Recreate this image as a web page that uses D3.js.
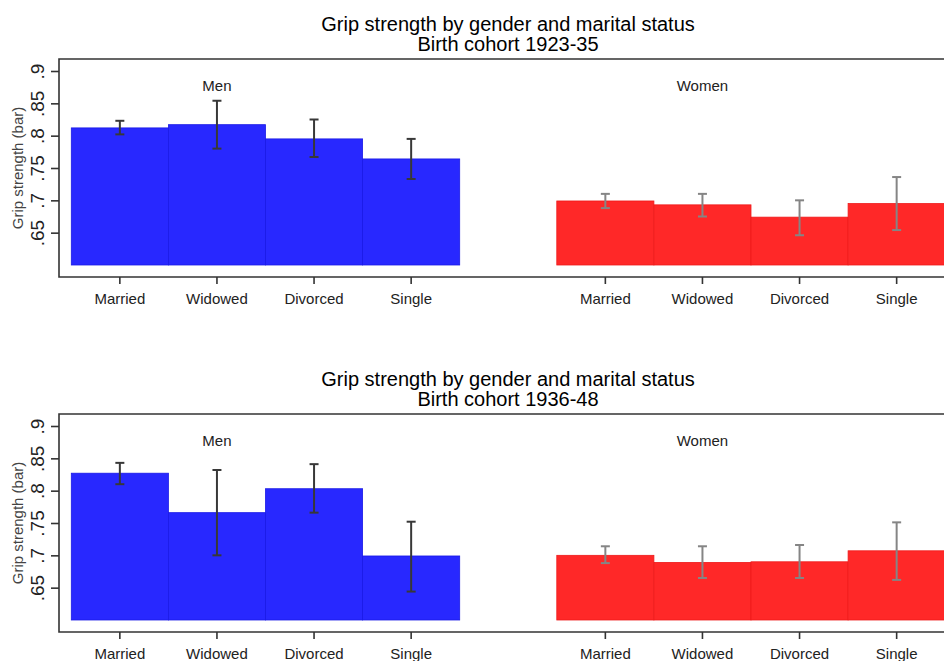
<!DOCTYPE html>
<html>
<head>
<meta charset="utf-8">
<script src="https://cdn.jsdelivr.net/npm/d3@7"></script>
<style>
  body { margin: 0; background: #fff; }
  svg { display: block; font-family: "Liberation Sans", Arial, sans-serif; }
</style>
</head>
<body>
<div id="chart"></div>
<script>
// categories and groups
var categories = ["Married", "Widowed", "Divorced", "Single"];
var groups = ["Men", "Women"];
var cohorts = ["1923-35", "1936-48"];
var yTicks = [0.65, 0.7, 0.75, 0.8, 0.85, 0.9];

// cohort 1923-35
var men1 = [0.812, 0.817, 0.795, 0.764];
var men1Lo = [0.802, 0.780, 0.767, 0.733];
var men1Hi = [0.823, 0.854, 0.825, 0.795];
var women1 = [0.699, 0.693, 0.674, 0.695];
var women1Lo = [0.688, 0.675, 0.646, 0.654];
var women1Hi = [0.710, 0.710, 0.700, 0.736];

// cohort 1936-48
var men2 = [0.827, 0.766, 0.803, 0.699];
var men2Lo = [0.810, 0.700, 0.766, 0.644];
var men2Hi = [0.843, 0.832, 0.841, 0.752];
var women2 = [0.700, 0.689, 0.690, 0.707];
var women2Lo = [0.688, 0.665, 0.665, 0.662];
var women2Hi = [0.714, 0.714, 0.716, 0.751];

var panels = [
    { cohort: cohorts[0], offset: 0, vals: [men1, women1], lo: [men1Lo, women1Lo], hi: [men1Hi, women1Hi] },
    { cohort: cohorts[1], offset: 355, vals: [men2, women2], lo: [men2Lo, women2Lo], hi: [men2Hi, women2Hi] }
];

var W = 944, H = 661;
var frame = { left: 59, top: 59, bottom: 277 };
var barColor = ["#2828ff", "#ff2828"];
var barEdge = ["#1a1ae6", "#ee1a1a"];
var errColor = ["#383838", "#858585"];

// 9 slots: 4 men, one empty, 4 women
var slots = [];
groups.forEach(function (g, gi) {
    categories.forEach(function (c) { slots.push(g + "|" + c); });
    if (gi === 0) slots.push("gap");
});

var x = d3.scaleBand()
    .domain(slots)
    .range([71.3, 945.2])
    .padding(0);

var y = d3.scaleLinear()
    .domain([0.6, 0.9])
    .range([265, 71]);

var svg = d3.select("#chart").append("svg")
    .attr("width", W)
    .attr("height", H);

panels.forEach(function (p) {
    var g = svg.append("g").attr("transform", "translate(0," + p.offset + ")");

    // Title
    g.append("text")
        .attr("x", 508).attr("y", 31)
        .attr("text-anchor", "middle")
        .style("font-size", "20px")
        .text("Grip strength by gender and marital status");
    g.append("text")
        .attr("x", 508).attr("y", 51)
        .attr("text-anchor", "middle")
        .style("font-size", "20px")
        .text("Birth cohort " + p.cohort);

    // Bars
    groups.forEach(function (grp, gi) {
        var rows = categories.map(function (c, i) {
            return { key: grp + "|" + c, v: p.vals[gi][i], lo: p.lo[gi][i], hi: p.hi[gi][i] };
        });

        g.selectAll(".bar" + gi)
            .data(rows)
            .enter().append("rect")
            .attr("class", "bar" + gi)
            .attr("x", function (d) { return x(d.key); })
            .attr("width", x.bandwidth())
            .attr("y", function (d) { return y(d.v); })
            .attr("height", function (d) { return y(0.6) - y(d.v); })
            .attr("fill", barColor[gi])
            .attr("stroke", barEdge[gi])
            .attr("stroke-width", 0.8);

        // error bars
        var eb = g.selectAll(".err" + gi)
            .data(rows)
            .enter().append("g")
            .attr("class", "err" + gi)
            .attr("stroke", errColor[gi])
            .attr("stroke-width", 2);
        eb.append("line")
            .attr("x1", function (d) { return x(d.key) + x.bandwidth() / 2; })
            .attr("x2", function (d) { return x(d.key) + x.bandwidth() / 2; })
            .attr("y1", function (d) { return y(d.lo); })
            .attr("y2", function (d) { return y(d.hi); });
        eb.selectAll(".cap")
            .data(function (d) { return [d.lo, d.hi].map(function (v) { return { key: d.key, v: v }; }); })
            .enter().append("line")
            .attr("x1", function (d) { return x(d.key) + x.bandwidth() / 2 - 4.5; })
            .attr("x2", function (d) { return x(d.key) + x.bandwidth() / 2 + 4.5; })
            .attr("y1", function (d) { return y(d.v); })
            .attr("y2", function (d) { return y(d.v); });

        // group label
        g.append("text")
            .attr("x", x(grp + "|" + categories[1]) + x.bandwidth() / 2)
            .attr("y", 90.5)
            .attr("text-anchor", "middle")
            .style("font-size", "15px")
            .attr("fill", "#222")
            .text(grp);
    });

    // Frame (top, left, bottom)
    g.append("path")
        .attr("d", "M" + W + "," + frame.top + "H" + frame.left + "V" + frame.bottom + "H" + W)
        .attr("fill", "none")
        .attr("stroke", "#333")
        .attr("stroke-width", 1.6);

    // Y axis
    var yAxis = g.append("g")
        .attr("transform", "translate(" + frame.left + ",0)")
        .call(d3.axisLeft(y).tickValues(yTicks).tickSize(8)
            .tickFormat(function (d) { return String(d).replace(/^0/, ""); }));
    yAxis.select(".domain").remove();
    yAxis.selectAll(".tick line").attr("stroke", "#333").attr("stroke-width", 1.6);
    yAxis.selectAll(".tick text")
        .attr("x", 0).attr("y", 0).attr("dy", 0)
        .attr("text-anchor", "middle")
        .attr("transform", "translate(-15,0) rotate(-90)")
        .attr("fill", "#222")
        .style("font-size", "19px");

    // Y title
    g.append("text")
        .attr("text-anchor", "middle")
        .attr("transform", "translate(23," + ((frame.top + frame.bottom) / 2) + ") rotate(-90)")
        .attr("fill", "#444")
        .style("font-size", "15px")
        .text("Grip strength (bar)");

    // X axis
    var xAxis = g.append("g")
        .attr("transform", "translate(0," + frame.bottom + ")")
        .call(d3.axisBottom(x)
            .tickValues(slots.filter(function (s) { return s !== "gap"; }))
            .tickSize(7)
            .tickFormat(function (d) { return d.split("|")[1]; }));
    xAxis.select(".domain").remove();
    xAxis.selectAll(".tick line").attr("stroke", "#333").attr("stroke-width", 1.6);
    xAxis.selectAll(".tick text")
        .attr("y", 27).attr("dy", 0)
        .attr("fill", "#222")
        .style("font-size", "15px");
});
</script>
</body>
</html>
